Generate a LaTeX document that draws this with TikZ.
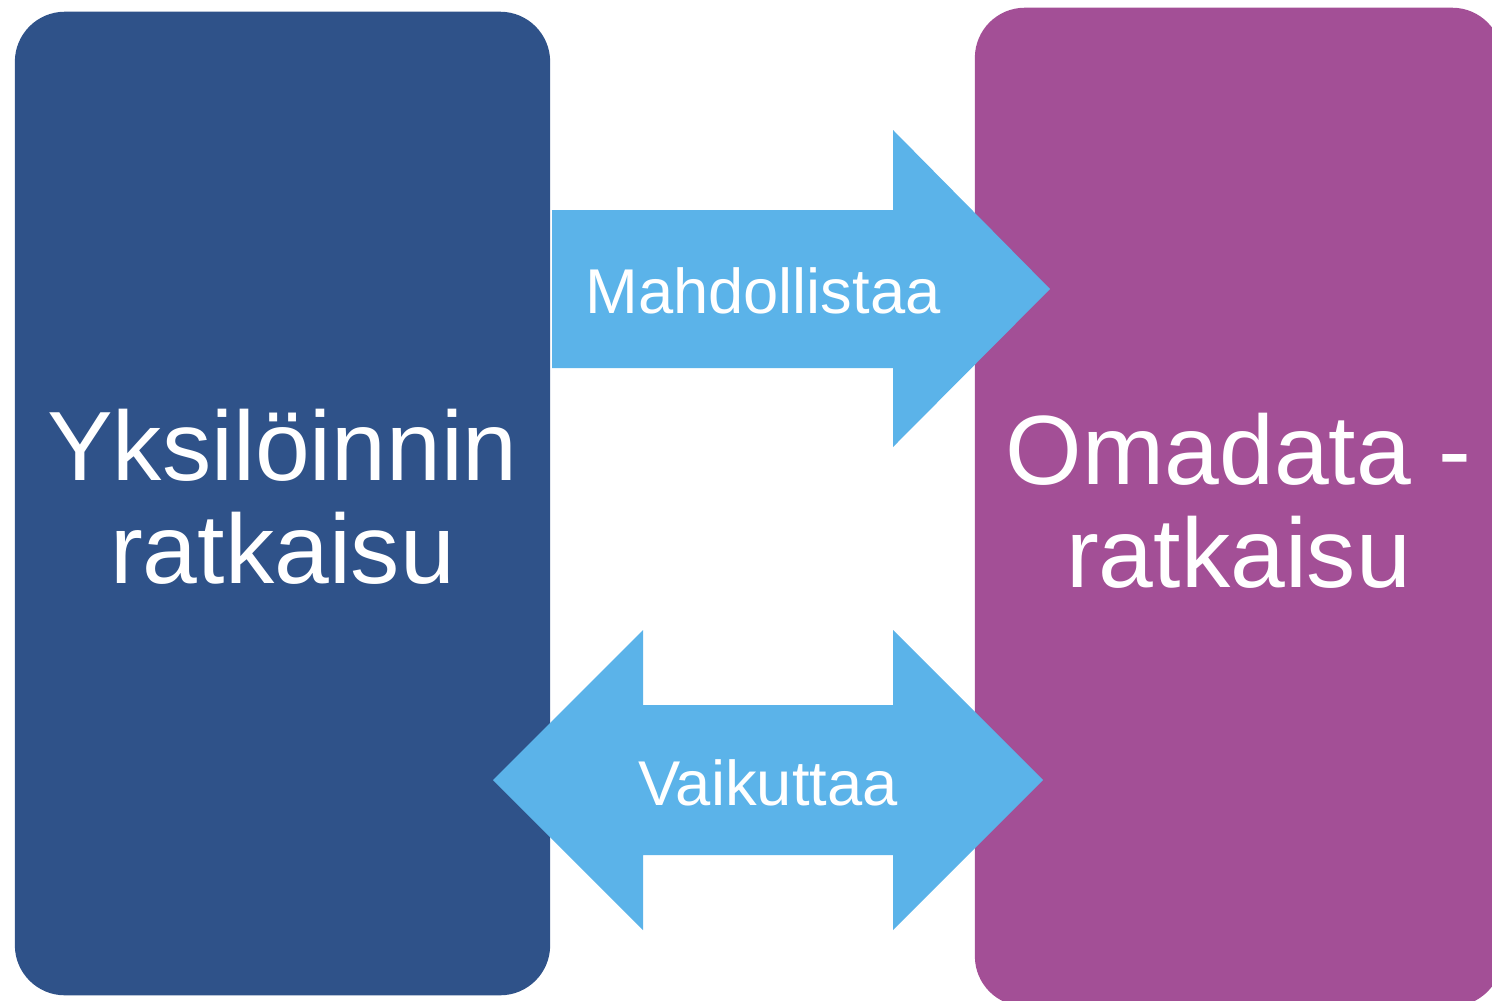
\documentclass[tikz,border=0pt]{standalone}
\usepackage{fontspec}
\setmainfont{Liberation Sans}

\definecolor{yksblue}{RGB}{47,82,137}
\definecolor{omapurple}{RGB}{163,79,150}
\definecolor{arrowblue}{RGB}{91,179,233}

\begin{document}
\begin{tikzpicture}[x=0.01cm, y=-0.01cm,
        bigbox/.style={rectangle, rounded corners=0.5cm, inner sep=0pt,
            minimum width=5.35cm, text=white, align=center, text depth=4pt,
            font=\fontsize{28}{29.3}\selectfont},
        arrowlabel/.style={anchor=base, inner sep=0pt, text=white,
            font=\fontsize{18}{20}\selectfont}]
        \useasboundingbox (0, 0) rectangle (1492, 1000);
        \clip (0, 0) rectangle (1492, 1000);

        \node[bigbox, fill=yksblue, minimum height=9.83cm] (yks) at (282.5, 503.5) {Yksilöinnin\\ratkaisu};
        \node[bigbox, fill=omapurple, minimum width=5.27cm, minimum height=9.98cm] (oma) at (1238.5, 507) {Omadata -\\ratkaisu};

        \fill[arrowblue] (552, 210) -- (893, 210) -- (893, 130) -- (1050, 289)
            -- (893, 447) -- (893, 368) -- (552, 368) -- cycle;
        \fill[arrowblue] (493, 780) -- (643, 630) -- (643, 705) -- (893, 705)
            -- (893, 630) -- (1043, 780) -- (893, 930) -- (893, 855)
            -- (643, 855) -- (643, 930) -- cycle;

        \node[arrowlabel] (mahd) at (763, 313) {Mahdollistaa};
        \node[arrowlabel] (vaik) at (768, 805) {Vaikuttaa};
    \end{tikzpicture}
\end{document}
